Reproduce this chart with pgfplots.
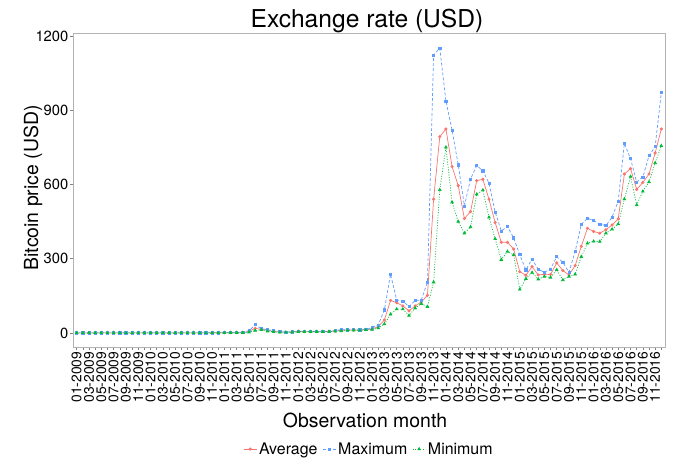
\documentclass[border=0pt]{standalone}
\usepackage{fontspec}
\setmainfont{TeX Gyre Heros}
\usepackage{pgfplots}
\pgfplotsset{compat=1.18}
\usepackage{pgfplotstable}

\definecolor{avgred}{HTML}{F8766D}
\definecolor{maxblue}{HTML}{619CFF}
\definecolor{mingreen}{HTML}{00BA38}
\definecolor{panelgray}{HTML}{B3B3B3}

% Monthly bitcoin price in USD: index 0 = 01-2009 ... 95 = 12-2016
\pgfplotstableread{
idx avg max min
0 0 0 0
1 0 0 0
2 0 0 0
3 0 0 0
4 0 0 0
5 0 0 0
6 0 0 0
7 0 0 0
8 0 0 0
9 0 0 0
10 0 0 0
11 0 0 0
12 0 0 0
13 0 0 0
14 0 0 0
15 0 0 0
16 0 0 0
17 0 0 0
18 0.06 0.09 0.05
19 0.07 0.07 0.06
20 0.06 0.07 0.06
21 0.10 0.19 0.06
22 0.26 0.39 0.19
23 0.25 0.30 0.20
24 0.40 0.95 0.30
25 0.90 1.10 0.80
26 0.86 0.92 0.75
27 1.30 3.50 0.60
28 6.5 8.9 3.0
29 18.5 33 9.5
30 14.0 16.4 12.5
31 10.5 13.5 7.0
32 6.0 8.2 4.8
33 4.0 5.2 2.2
34 2.8 3.2 2.2
35 3.5 4.2 2.9
36 6.2 7.1 4.9
37 5.3 6.1 4.4
38 4.9 5.4 4.7
39 5.0 5.2 4.8
40 5.1 5.2 4.9
41 5.9 6.7 5.2
42 7.9 9.4 6.5
43 10.5 13.5 7.8
44 11.5 12.6 10.2
45 11.8 12.9 10.3
46 11.1 12.6 10.4
47 13.3 13.7 12.6
48 15.6 21 13.3
49 25.3 32 19.6
50 52 93 36
51 131 237 75
52 122 133 96
53 109 129 96
54 89 106 70
55 109 131 100
56 125 133 118
57 152 205 106
58 540 1123 205
59 793 1151 578
60 824 937 750
61 672 820 528
62 595 679 450
63 462 513 403
64 490 622 428
65 615 676 560
66 621 655 577
67 540 605 467
68 446 488 380
69 366 412 296
70 366 430 329
71 339 384 315
72 247 316 176
73 233 255 219
74 268 298 244
75 234 257 217
76 237 245 228
77 236 258 224
78 283 308 255
79 252 285 214
80 234 245 228
81 272 329 237
82 350 439 308
83 423 463 362
84 410 455 370
85 403 439 369
86 417 434 403
87 436 468 419
88 461 533 440
89 642 766 541
90 664 704 632
91 580 609 517
92 608 630 572
93 642 716 610
94 727 753 687
95 824 971 756
}\btcprice

\begin{document}
\begin{tikzpicture}
\path[use as bounding box] (-73bp,-112bp) rectangle (602bp,347bp);
\begin{axis}[
  at={(0,0)}, anchor=south west,
  scale only axis, width=592bp, height=314bp,
  xmin=-0.6, xmax=95.6, ymin=-57, ymax=1212,
  axis line style={panelgray, line width=0.7bp},
  tick pos=left,
  tick align=outside,
  major tick length=3bp, minor tick length=3bp,
  tick style={black!50, line width=0.5bp},
  minor tick style={black!50, line width=0.5bp},
  xtick={0,2,...,94},
  minor xtick={1,3,...,95},
  xticklabels={01-2009,03-2009,05-2009,07-2009,09-2009,11-2009,
    01-2010,03-2010,05-2010,07-2010,09-2010,11-2010,
    01-2011,03-2011,05-2011,07-2011,09-2011,11-2011,
    01-2012,03-2012,05-2012,07-2012,09-2012,11-2012,
    01-2013,03-2013,05-2013,07-2013,09-2013,11-2013,
    01-2014,03-2014,05-2014,07-2014,09-2014,11-2014,
    01-2015,03-2015,05-2015,07-2015,09-2015,11-2015,
    01-2016,03-2016,05-2016,07-2016,09-2016,11-2016},
  xticklabel style={rotate=90, anchor=east, font=\fontsize{13.9}{14}\selectfont, inner sep=1.5bp},
  ytick={0,300,600,900,1200},
  yticklabel style={font=\fontsize{14.8}{15}\selectfont, inner sep=1.5bp},
  /pgf/number format/assume math mode=true,
  /pgf/number format/1000 sep={},
  legend columns=3,
  legend style={at={(axis description cs:0.5,-0.325)}, anchor=center,
    draw=none, fill=none, inner sep=0pt,
    font=\fontsize{16}{17}\selectfont,
    /tikz/every odd column/.append style={column sep=0bp},
    /tikz/every even column/.append style={column sep=3bp}},
  legend image code/.code={%
    \draw[mark repeat=2,mark phase=2,#1] plot coordinates {(0bp,0bp) (6.5bp,0bp) (13bp,0bp)};},
]
\addplot[avgred, line width=0.7bp, mark=*, mark size=1.2bp, mark options={solid}]
  table[x=idx, y=avg] {\btcprice};
\addlegendentry{Average}
\addplot[maxblue, line width=0.7bp, dash pattern=on 3bp off 2bp, mark=square*, mark size=1.1bp, mark options={solid}]
  table[x=idx, y=max] {\btcprice};
\addlegendentry{Maximum}
\addplot[mingreen, line width=0.7bp, dash pattern=on 1bp off 1.6bp, mark=triangle*, mark size=1.5bp, mark options={solid}]
  table[x=idx, y=min] {\btcprice};
\addlegendentry{Minimum}
\end{axis}
\node[anchor=base, font=\fontsize{24.7}{28}\selectfont] at (294bp,319bp) {Exchange rate (USD)};
\node[anchor=base, font=\fontsize{19.5}{22}\selectfont] at (292bp,-80bp) {Observation month};
\node[anchor=base, rotate=90, font=\fontsize{19.5}{22}\selectfont] at (-35bp,159bp) {Bitcoin price (USD)};
\end{tikzpicture}
\end{document}
